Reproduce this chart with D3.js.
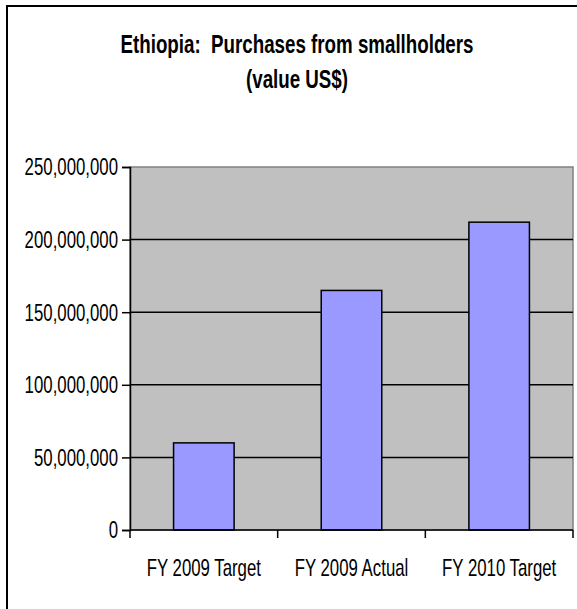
<!DOCTYPE html>
<html>
<head>
<meta charset="utf-8">
<script src="https://cdn.jsdelivr.net/npm/d3@7"></script>
<style>
  body { margin: 0; background: #fff; }
  svg { display: block; font-family: 'Liberation Sans', Arial, sans-serif; }
</style>
</head>
<body>
<div class="container"></div>
<script>
// Data
const categories = ['FY 2009 Target', 'FY 2009 Actual', 'FY 2010 Target'];
const purchases = [60000000, 165000000, 212000000];
const yTicks = [0, 50000000, 100000000, 150000000, 200000000, 250000000];
const titleLines = ['Ethiopia:  Purchases from smallholders', '(value US$)'];

const drawChart = () => {
  const width = 577;
  const height = 609;
  const plot = { left: 130, right: 573, top: 167, bottom: 530 };
  // the original lettering is tall and narrow
  const squeeze = 0.7;
  const titleSqueeze = 0.75;

  const svg = d3
    .select('.container')
    .append('svg')
    .attr('width', width)
    .attr('height', height);

  // Outer frame (right and bottom edges fall outside the picture)
  svg
    .append('rect')
    .attr('x', 7)
    .attr('y', 6)
    .attr('width', width + 20)
    .attr('height', height + 20)
    .attr('fill', '#fff')
    .attr('stroke', '#000')
    .attr('stroke-width', 2);

  // Title
  svg
    .selectAll('g.title')
    .data(titleLines)
    .enter()
    .append('g')
    .attr('class', 'title')
    .attr('transform', (d, i) => `translate(297, ${53 + i * 35}) scale(${titleSqueeze}, 1)`)
    .append('text')
    .attr('text-anchor', 'middle')
    .style('white-space', 'pre')
    .style('font-size', '25px')
    .style('font-weight', 'bold')
    .text((d) => d);

  // Scales
  const x = d3
    .scaleBand()
    .domain(categories)
    .range([plot.left, plot.right])
    .paddingInner(0.59)
    .paddingOuter(0.295);

  const y = d3
    .scaleLinear()
    .domain([0, 250000000])
    .range([plot.bottom, plot.top]);

  // Plot area
  svg
    .append('rect')
    .attr('x', plot.left)
    .attr('y', plot.top)
    .attr('width', plot.right - plot.left)
    .attr('height', plot.bottom - plot.top)
    .attr('fill', '#c0c0c0')
    .attr('stroke', '#808080')
    .attr('stroke-width', 1.5);

  // Gridlines
  svg
    .selectAll('line.grid')
    .data(yTicks.filter((t) => t > 0 && t < 250000000))
    .enter()
    .append('line')
    .attr('class', 'grid')
    .attr('x1', plot.left)
    .attr('x2', plot.right)
    .attr('y1', (d) => y(d))
    .attr('y2', (d) => y(d))
    .attr('stroke', '#000')
    .attr('stroke-width', 1.5);

  // Bars
  svg
    .selectAll('rect.bar')
    .data(purchases)
    .enter()
    .append('rect')
    .attr('class', 'bar')
    .attr('x', (d, i) => x(categories[i]))
    .attr('y', (d) => y(d))
    .attr('width', x.bandwidth())
    .attr('height', (d) => y(0) - y(d))
    .attr('fill', '#9999ff')
    .attr('stroke', '#000')
    .attr('stroke-width', 1.5);

  // Y axis (labels drawn separately so they can be narrowed)
  const yAxis = svg
    .append('g')
    .attr('transform', `translate(${plot.left},0)`)
    .call(d3.axisLeft(y).tickValues(yTicks).tickFormat('').tickSize(8));
  yAxis.select('.domain').attr('stroke-width', 1.5);
  yAxis.selectAll('.tick line').attr('stroke-width', 1.5);

  svg
    .selectAll('g.ylabel')
    .data(yTicks)
    .enter()
    .append('g')
    .attr('class', 'ylabel')
    .attr('transform', (d) => `translate(${plot.left - 12}, ${y(d)}) scale(${squeeze}, 1)`)
    .append('text')
    .attr('text-anchor', 'end')
    .attr('dy', '0.35em')
    .style('font-size', '24px')
    .text((d) => d3.format(',')(d));

  // X axis: ticks sit between the categories
  const edges = [plot.left].concat(
    categories.map((c) => x(c) + x.bandwidth() + (x.step() * x.paddingInner()) / 2)
  );
  edges[edges.length - 1] = plot.right;
  const xAxis = svg.append('g');
  xAxis
    .append('line')
    .attr('x1', plot.left)
    .attr('x2', plot.right)
    .attr('y1', plot.bottom)
    .attr('y2', plot.bottom)
    .attr('stroke', '#000')
    .attr('stroke-width', 1.5);
  xAxis
    .selectAll('line.tick')
    .data(edges)
    .enter()
    .append('line')
    .attr('class', 'tick')
    .attr('x1', (d) => d)
    .attr('x2', (d) => d)
    .attr('y1', plot.bottom)
    .attr('y2', plot.bottom + 8)
    .attr('stroke', '#000')
    .attr('stroke-width', 1.5);
  xAxis
    .selectAll('g.xlabel')
    .data(categories)
    .enter()
    .append('g')
    .attr('class', 'xlabel')
    .attr('transform', (d) => `translate(${x(d) + x.bandwidth() / 2}, 576) scale(${squeeze}, 1)`)
    .append('text')
    .attr('text-anchor', 'middle')
    .style('font-size', '24px')
    .text((d) => d);
};

drawChart();
</script>
</body>
</html>
